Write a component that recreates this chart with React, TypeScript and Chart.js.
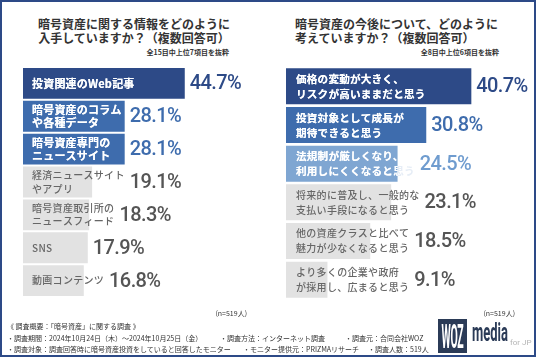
import React, { useEffect, useRef } from "react";
import { Chart, registerables } from "chart.js";

Chart.register(...registerables);

// ---------- data ----------
const leftCategories: string[][] = [
  ["投資関連のWeb記事"],
  ["暗号資産のコラム", "や各種データ"],
  ["暗号資産専門の", "ニュースサイト"],
  ["経済ニュースサイト", "やアプリ"],
  ["暗号資産取引所の", "ニュースフィード"],
  ["SNS"],
  ["動画コンテンツ"],
];
const leftValues: number[] = [44.7, 28.1, 28.1, 19.1, 18.3, 17.9, 16.8];

const rightCategories: string[][] = [
  ["価格の変動が大きく、", "リスクが高いままだと思う"],
  ["投資対象として成長が", "期待できると思う"],
  ["法規制が厳しくなり、", "利用しにくくなると思う"],
  ["将来的に普及し、一般的な", "支払い手段になると思う"],
  ["他の資産クラスと比べて", "魅力が少なくなると思う"],
  ["より多くの企業や政府", "が採用し、広まると思う"],
];
const rightValues: number[] = [40.7, 30.8, 24.5, 23.1, 18.5, 9.1];

const NAVY = "#2d4a87";
const MID = "#3e6cad";
const LIGHT = "#7fa6d2";
const GRAY = "#e2e2e2";

const leftBarColors = [NAVY, MID, MID, GRAY, GRAY, GRAY, GRAY];
const leftLabelColors = ["#fff", "#fff", "#fff", "#666", "#666", "#666", "#666"];
const leftValueColors = [NAVY, MID, MID, "#555", "#555", "#555", "#555"];

const rightBarColors = [NAVY, MID, LIGHT, GRAY, GRAY, GRAY];
const rightLabelColors = ["#fff", "#fff", "#fff", "#666", "#666", "#666"];
const rightValueColors = [NAVY, MID, "#6f9ccf", "#555", "#555", "#555"];

const CJK = "'Noto Sans CJK JP', 'Noto Sans', sans-serif";
const NUM = "Roboto, 'Noto Sans', sans-serif";

type PanelProps = {
  left: number;
  width: number;
  categories: string[][];
  values: number[];
  barColors: string[];
  labelColors: string[];
  valueColors: string[];
  max: number;
  padding: { left: number; right: number; top: number; bottom: number };
  barPercentage: number;
  textPad: number;
  lineGap: number;
  blueFont: number;
  grayFont: number;
};

function BarPanel(p: PanelProps) {
  const ref = useRef<HTMLCanvasElement | null>(null);
  useEffect(() => {
    if (!ref.current) return;
    const labelPlugin = {
      id: "labels" + p.left,
      afterDatasetsDraw(chart: any) {
        const ctx = chart.ctx as CanvasRenderingContext2D;
        const meta = chart.getDatasetMeta(0);
        const area = chart.chartArea;
        meta.data.forEach((bar: any, i: number) => {
          const props = bar.getProps(["x", "y", "base", "height"], true);
          const lines = p.categories[i];
          const white = p.labelColors[i] === "#fff";
          ctx.save();
          ctx.font = white ? `700 ${p.blueFont}px ${CJK}` : `500 ${p.grayFont}px ${CJK}`;
          (ctx as any).letterSpacing = white ? "0.2px" : "0.3px";
          ctx.textAlign = "left";
          ctx.textBaseline = "middle";
          const tx = area.left + p.textPad;
          let maxW = 0;
          const drawLines = () =>
            lines.forEach((ln, k) => {
              const yy = props.y + (k - (lines.length - 1) / 2) * p.lineGap;
              ctx.fillText(ln, tx, yy);
            });
          lines.forEach((ln) => {
            maxW = Math.max(maxW, ctx.measureText(ln).width);
          });
          if (white) {
            ctx.fillStyle = "#e6edf6";
            drawLines();
            ctx.save();
            ctx.beginPath();
            ctx.rect(props.base, props.y - props.height / 2, props.x - props.base, props.height);
            ctx.clip();
            ctx.fillStyle = "#fff";
            drawLines();
            ctx.restore();
          } else {
            ctx.fillStyle = p.labelColors[i];
            drawLines();
          }
          ctx.restore();
          ctx.save();
          ctx.font = `500 20px ${NUM}`;
          (ctx as any).letterSpacing = "-0.6px";
          ctx.fillStyle = p.valueColors[i];
          ctx.textAlign = "left";
          ctx.textBaseline = "middle";
          const vx = Math.max(props.x, tx + maxW) + 5;
          ctx.fillText(p.values[i].toFixed(1) + "%", vx, props.y + 1);
          ctx.restore();
        });
      },
    };
    const chart = new Chart(ref.current, {
      type: "bar",
      data: {
        labels: p.categories.map((c) => c.join("")),
        datasets: [
          {
            data: p.values,
            backgroundColor: p.barColors,
            borderWidth: 0,
            barPercentage: p.barPercentage,
            categoryPercentage: 1,
          },
        ],
      },
      options: {
        indexAxis: "y",
        responsive: false,
        animation: false,
        devicePixelRatio: 1,
        layout: { padding: p.padding },
        scales: {
          x: { display: false, min: 0, max: p.max },
          y: { display: false },
        },
        plugins: { legend: { display: false }, tooltip: { enabled: false } },
      },
      plugins: [labelPlugin],
    });
    return () => chart.destroy();
  }, []);
  return (
    <canvas
      ref={ref}
      width={p.width}
      height={357}
      style={{ position: "absolute", left: p.left, top: 0, width: p.width, height: 357 }}
    />
  );
}

function T(props: {
  x: number;
  y: number;
  size: number;
  weight?: number;
  color?: string;
  align?: "left" | "right" | "center";
  children: React.ReactNode;
  font?: string;
  w?: number;
}) {
  const { x, y, size, weight = 400, color = "#333", align = "left", children, font = CJK, w = 300 } = props;
  const left = align === "left" ? x : align === "right" ? x - w : x - w / 2;
  return (
    <div
      style={{
        position: "absolute",
        left,
        top: y - size,
        width: w,
        height: size * 2,
        lineHeight: size * 2 + "px",
        fontSize: size,
        fontWeight: weight,
        color,
        textAlign: align,
        fontFamily: font,
        whiteSpace: "nowrap",
      }}
    >
      {children}
    </div>
  );
}

export default function App() {
  return (
    <div style={{ position: "absolute", left: 0, top: 0, width: 536, height: 357, background: "#fff", overflow: "hidden" }}>
      {/* left titles */}
      <T x={134} y={24} size={12} weight={700} align="center">暗号資産に関する情報をどのように</T>
      <T x={134} y={38} size={12} weight={700} align="center">入手していますか？（複数回答可）</T>
      <T x={229} y={52} size={7} weight={700} align="right">全15目中上位7項目を抜粋</T>
      {/* right titles */}
      <T x={295} y={24} size={12} weight={700}>暗号資産の今後について、どのように</T>
      <T x={295} y={38} size={12} weight={700}>考えていますか？（複数回答可）</T>
      <T x={499} y={52} size={7} weight={700} align="right">全8目中上位6項目を抜粋</T>

      <BarPanel
        left={0}
        width={268}
        categories={leftCategories}
        values={leftValues}
        barColors={leftBarColors}
        labelColors={leftLabelColors}
        valueColors={leftValueColors}
        max={67.7}
        padding={{ left: 23, right: 0, top: 67, bottom: 60 }}
        barPercentage={0.94}
        textPad={9}
        lineGap={13.5}
        blueFont={11}
        grayFont={10}
      />
      <BarPanel
        left={268}
        width={268}
        categories={rightCategories}
        values={rightValues}
        barColors={rightBarColors}
        labelColors={rightLabelColors}
        valueColors={rightValueColors}
        max={54.9}
        padding={{ left: 18, right: 0, top: 67, bottom: 58 }}
        barPercentage={0.93}
        textPad={10}
        lineGap={15}
        blueFont={10.6}
        grayFont={10}
      />

      <T x={247} y={313} size={7} align="right">(n=519人)</T>
      <T x={515} y={313} size={7} align="right">(n=519人)</T>

      {/* footer */}
      <T x={7} y={326} size={7} w={400}>《 調査概要：「暗号資産」に関する調査 》</T>
      <T x={7} y={338} size={7} w={400}>・調査期間：2024年10月24日（木）～2024年10月25日（金）</T>
      <T x={220} y={338} size={7} w={200}>・調査方法：インターネット調査</T>
      <T x={345} y={338} size={7} w={200}>・調査元：合同会社WOZ</T>
      <T x={7} y={349} size={7} w={400}>・調査対象：調査回答時に暗号資産投資をしていると回答したモニター</T>
      <T x={243} y={349} size={7} w={200}>・モニター提供元：PRIZMAリサーチ</T>
      <T x={368} y={349} size={7} w={200}>・調査人数：519人</T>

      {/* logo */}
      <div style={{ position: "absolute", left: 438, top: 319, width: 29, height: 34, background: "#2b3b57" }} />
      <div
        style={{
          position: "absolute",
          left: 412,
          top: 319,
          width: 81,
          height: 34,
          lineHeight: "34px",
          textAlign: "center",
          color: "#fff",
          fontFamily: NUM,
          fontWeight: 700,
          fontSize: 34,
          transform: "scaleX(0.31)",
          letterSpacing: "-1px",
        }}
      >
        WOZ
      </div>
      <div
        style={{
          position: "absolute",
          left: 455,
          top: 346 - 26,
          width: 70,
          height: 25,
          lineHeight: "25px",
          textAlign: "center",
          color: "#2b3b57",
          fontFamily: NUM,
          fontWeight: 700,
          fontSize: 25,
          transform: "scaleX(0.52)",
          whiteSpace: "nowrap",
        }}
      >
        media
      </div>
      <div style={{ position: "absolute", left: 510, top: 338, fontFamily: NUM, fontSize: 8, color: "#b5b5b5", lineHeight: "10px", whiteSpace: "nowrap" }}>
        for JP
      </div>

      <div style={{ position: "absolute", left: 0, top: 0, width: 536, height: 357, boxSizing: "border-box", border: "2px solid #2d4a87", pointerEvents: "none" }} />
    </div>
  );
}
